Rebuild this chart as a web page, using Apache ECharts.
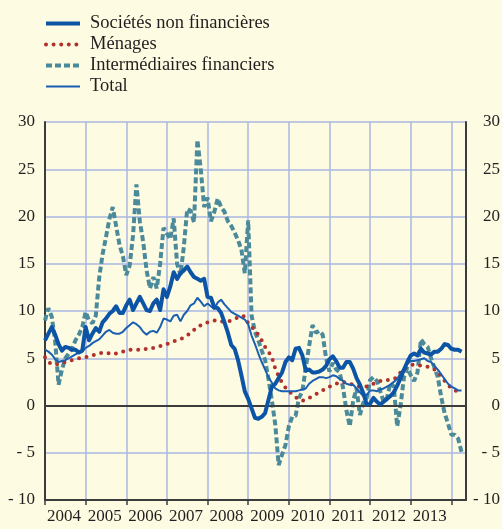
<!DOCTYPE html>
<html>
<head>
<meta charset="UTF-8">
<title></title>
<style>
  html, body { margin: 0; padding: 0; background: #fdfbe1; }
</style>
</head>
<body>
<div id="main" style="width:502px;height:529px"></div>
<script src="https://cdn.jsdelivr.net/npm/echarts@6/dist/echarts.min.js"></script>
<script type="text/javascript">
  // monthly series, January 2004 -> April 2014
  var startYear = 2004;
  var yearLabels = ['2004', '2005', '2006', '2007', '2008', '2009', '2010', '2011', '2012', '2013'];

  var societes = [
    6.9, 7.6, 8.3, 7.5, 6.5, 5.8, 6.2, 6.1, 5.9, 5.9, 5.6, 5.8,
    8.3, 6.9, 7.6, 8.2, 7.8, 8.8, 9.2, 9.7, 10.0, 10.5, 9.8, 9.8,
    10.6, 11.2, 10.1, 10.8, 11.5, 10.8, 10.1, 10.0, 10.8, 11.2, 10.1, 12.3,
    11.5, 12.6, 14.1, 13.4, 14.0, 14.3, 14.7, 14.1, 13.6, 13.4, 13.2, 13.4,
    11.5, 11.4, 10.4, 10.3, 9.8, 8.8, 7.7, 6.4, 6.0, 4.8, 3.2, 1.5,
    0.7, -0.3, -1.3, -1.4, -1.2, -0.8, 0.6, 2.0, 2.3, 2.9, 3.5, 4.6,
    5.1, 4.8, 6.0, 6.1, 5.3, 3.7, 3.8, 3.5, 3.5, 3.6, 3.8, 4.2,
    4.9, 5.2, 4.7, 4.0, 4.0, 4.6, 4.6, 3.9, 2.9, 2.2, 1.3, 0.1,
    0.2, 0.8, 0.4, 0.1, 0.4, 0.7, 1.0, 1.4, 2.1, 2.9, 3.8, 4.6,
    5.3, 5.5, 5.3, 6.0, 5.6, 5.5, 5.4, 5.7, 5.7, 6.0, 6.5, 6.4,
    6.0, 5.9, 5.9, 5.7
  ];

  var menages = [
    5.1, 4.6, 4.4, 4.3, 4.4, 4.5, 4.6, 4.7, 4.8, 4.9, 5.0, 5.0,
    5.1, 5.2, 5.3, 5.4, 5.5, 5.6, 5.6, 5.5, 5.6, 5.5, 5.6, 5.7,
    5.8, 5.9, 5.9, 5.9, 5.9, 5.9, 6.0, 6.0, 6.1, 6.2, 6.3, 6.4,
    6.5, 6.7, 6.8, 6.9, 7.0, 7.2, 7.4, 7.7, 8.0, 8.3, 8.5, 8.6,
    8.8, 8.9, 9.0, 9.0, 8.9, 8.9, 8.9, 9.0, 9.2, 9.3, 9.5, 9.4,
    8.7, 8.3, 8.0, 7.5, 6.9, 6.2, 5.7, 5.1, 3.9, 3.1, 2.4, 1.9,
    1.5, 1.2, 0.9, 0.6, 0.5, 0.6, 0.8, 1.0, 1.2, 1.4, 1.6, 1.8,
    2.0, 2.1, 2.3, 2.4, 2.5, 2.4, 2.3, 2.2, 2.1, 2.0, 2.0, 2.0,
    2.1, 2.3, 2.5, 2.6, 2.6, 2.7, 2.7, 2.8, 3.0, 3.5, 3.9, 4.1,
    4.3, 4.3, 4.3, 4.2, 4.2, 4.1, 4.0, 3.8, 3.5, 3.1, 2.6, 2.2,
    1.8, 1.6, 1.5, 1.6
  ];

  var intermediaires = [
    9.0, 10.3, 9.4, 6.8, 2.2, 3.8, 5.0, 5.5, 6.0, 6.9, 7.5, 8.3,
    9.9, 9.0, 8.7, 9.5, 13.5, 16.0, 17.8, 19.7, 21.0, 19.0, 17.0, 15.8,
    13.8, 14.8, 18.0, 23.4, 19.5, 17.3, 14.3, 12.4, 13.6, 12.4, 15.0, 18.8,
    18.2, 17.6, 19.8, 15.0, 13.8, 16.8, 20.8, 20.6, 19.4, 28.1, 25.0, 21.0,
    22.0, 19.5, 20.5, 21.9, 21.0, 20.5, 19.5, 19.0, 18.3, 17.5, 16.5, 14.0,
    19.6, 9.5, 7.8, 6.9, 5.8, 4.8, 2.8, 0.5, -2.0, -6.3, -5.2, -4.2,
    -2.2, -1.2, -1.1, 0.8, 1.5, 4.0, 6.3, 8.5, 7.7, 7.9, 7.5, 5.0,
    3.6, 4.5, 3.8, 3.5, 1.9, -0.5, -2.2, 0.5, 1.8, -1.0, 0.3, 0.8,
    2.7, 3.0, 2.6, 1.5, 0.4, 0.8, 2.4, 2.0, -2.2, 0.0, 3.0, 4.0,
    3.2, 2.6, 3.5, 7.0, 6.5, 6.2, 5.0, 4.0, 3.0, 0.9, -0.8, -1.9,
    -3.1, -3.1, -3.5, -4.9
  ];

  var total = [
    5.9, 5.7, 5.4, 4.9, 4.6, 4.7, 4.8, 5.0, 5.2, 5.4, 5.6, 5.7,
    6.1, 6.3, 6.6, 6.8, 7.0, 7.4, 7.8, 8.0, 7.7, 7.6, 7.6, 7.8,
    8.2, 8.5, 8.8, 8.6, 8.3, 7.8, 7.5, 7.8, 7.9, 7.7, 8.3, 9.2,
    9.1, 8.9, 9.5, 9.6, 8.9, 9.6, 10.0, 10.6, 10.8, 11.4, 11.0, 10.5,
    10.8, 10.5, 10.2, 10.9, 11.2, 10.7, 10.3, 9.9, 9.7, 9.5, 9.3, 9.1,
    8.6, 7.4, 6.5, 5.5, 4.6, 3.8, 3.0, 2.4, 1.8, 1.6, 1.5, 1.5,
    1.5, 1.5, 1.5, 1.6, 1.7, 1.8, 2.3, 2.6, 2.8, 3.0, 3.0, 2.9,
    3.0, 3.2, 3.1, 2.8, 2.6, 2.3, 2.2, 2.2, 1.8, 1.4, 1.0, 1.1,
    1.6, 1.6, 1.5, 1.7, 1.8, 2.0, 2.2, 2.5, 2.8, 3.4, 3.9, 4.4,
    4.7, 4.7, 4.8, 4.9, 5.0, 4.7, 4.6, 4.2, 3.8, 3.3, 2.8, 2.3,
    2.0, 1.8, 1.6, 1.6
  ];

  function withDates(values) {
    return values.map(function(v, i) {
      return [startYear + i / 12, v];
    });
  }

  var serif = 'Liberation Serif';
  var ink = '#231f20';
  var gridColor = '#a9b7e2';
  var axisColor = '#3c3c3c';

  var styles = {
    societes: { color: '#0b54a6', width: 4, type: 'solid' },
    menages: { color: '#b1312d', width: 4, type: [0, 7.6], cap: 'round' },
    intermediaires: { color: '#4b8a9b', width: 4, type: [6, 3] },
    total: { color: '#1a5fb2', width: 2, type: 'solid' }
  };

  var myCharts = echarts.init(document.querySelector('#main'));

  function yLabelFormatter(v) {
    return v < 0 ? '- ' + Math.abs(v) : String(v);
  }

  var option = {
    backgroundColor: '#fdfbe1',
    animation: false,
    legend: {
      orient: 'vertical',
      left: 44,
      top: 14,
      padding: 0,
      itemWidth: 34,
      itemHeight: 12,
      itemGap: 2,
      itemStyle: { opacity: 0 },
      textStyle: { fontFamily: serif, fontSize: 18.5, lineHeight: 18, color: ink, padding: [0, 0, 0, 5] },
      data: [
        { name: 'Sociétés non financières', lineStyle: styles.societes },
        { name: 'Ménages', lineStyle: styles.menages },
        { name: 'Intermédiaires financiers', lineStyle: styles.intermediaires },
        { name: 'Total', lineStyle: styles.total }
      ]
    },
    grid: { left: 45, right: 36, top: 122, bottom: 29, containLabel: false, outerBoundsMode: 'none' },
    xAxis: {
      type: 'value',
      min: 2004,
      max: 2014.36,
      interval: 1,
      axisLine: { show: true, onZero: false, lineStyle: { color: axisColor, width: 2 } },
      axisTick: { show: true, inside: false, length: 5, lineStyle: { color: axisColor, width: 1.5 } },
      axisLabel: {
        fontFamily: serif,
        fontSize: 17,
        color: ink,
        margin: 8,
        align: 'left',
        padding: [0, 0, 0, 2],
        showMaxLabel: false,
        formatter: function(v) {
          if (Math.abs(v - Math.round(v)) > 0.001) return '';
          return yearLabels[Math.round(v) - startYear] || '';
        }
      },
      splitLine: { show: true, lineStyle: { color: gridColor, width: 1.5 } }
    },
    yAxis: [{
      type: 'value',
      position: 'left',
      min: -10,
      max: 30,
      interval: 5,
      axisLine: { show: true, lineStyle: { color: axisColor, width: 2 } },
      axisTick: { show: false },
      axisLabel: { fontFamily: serif, fontSize: 17, color: ink, margin: 10, formatter: yLabelFormatter },
      splitLine: { show: true, lineStyle: { color: gridColor, width: 1.5 } }
    }, {
      type: 'value',
      position: 'right',
      min: -10,
      max: 30,
      interval: 5,
      axisLine: { show: true, lineStyle: { color: axisColor, width: 2 } },
      axisTick: { show: false },
      axisLabel: { fontFamily: serif, fontSize: 17, color: ink, margin: 34, align: 'right', formatter: yLabelFormatter },
      splitLine: { show: false }
    }],
    series: [{
      name: 'Sociétés non financières',
      type: 'line',
      symbol: 'none',
      z: 5,
      lineStyle: Object.assign({ join: 'round' }, styles.societes),
      itemStyle: { color: styles.societes.color },
      data: withDates(societes)
    }, {
      name: 'Ménages',
      type: 'line',
      symbol: 'none',
      z: 3,
      lineStyle: styles.menages,
      itemStyle: { color: styles.menages.color },
      data: withDates(menages),
      markLine: {
        silent: true,
        symbol: 'none',
        label: { show: false },
        lineStyle: { color: axisColor, width: 2, type: 'solid' },
        data: [{ yAxis: 0 }]
      }
    }, {
      name: 'Intermédiaires financiers',
      type: 'line',
      symbol: 'none',
      z: 2,
      lineStyle: styles.intermediaires,
      itemStyle: { color: styles.intermediaires.color },
      data: withDates(intermediaires)
    }, {
      name: 'Total',
      type: 'line',
      symbol: 'none',
      z: 4,
      lineStyle: styles.total,
      itemStyle: { color: styles.total.color },
      data: withDates(total)
    }]
  };

  myCharts.setOption(option);
</script>
</body>
</html>
